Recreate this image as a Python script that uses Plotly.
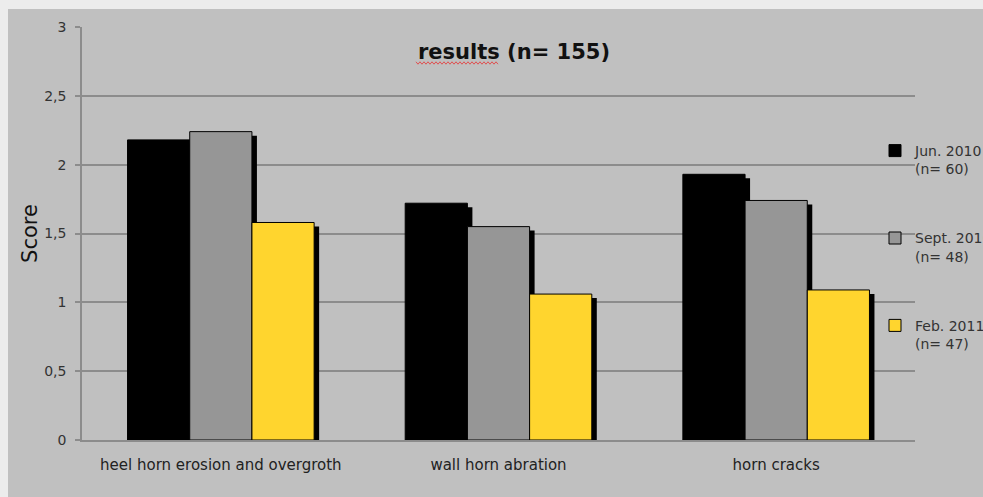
import plotly.graph_objects as go

# Category labels and mean scores per survey date
categories = ["heel horn erosion and overgroth", "wall horn abration", "horn cracks"]
jun_2010 = [2.18, 1.72, 1.93]
sept_2010 = [2.24, 1.55, 1.74]
feb_2011 = [1.58, 1.06, 1.09]

series_names = ["Jun. 2010<br>(n= 60)", "Sept. 2010<br>(n= 48)", "Feb. 2011<br>(n= 47)"]
series_values = [jun_2010, sept_2010, feb_2011]
series_colors = ["#000000", "#969696", "#ffd52e"]

y_ticks = [0, 0.5, 1, 1.5, 2, 2.5, 3]

BG = "#c0c0c0"
GRID = "#8c8c8c"

# plot area geometry (pixels) used to size the drop shadows
W, H = 983, 497
L, R, T, B = 82, 68, 27, 57
plot_w = W - L - R
plot_h = H - T - B
cat_px = plot_w / len(categories)
val_px = plot_h / 3.0

bar_w = 0.224
shadow_dx = 5 / cat_px
shadow_dy = 4 / val_px
offsets = [-1.5 * bar_w, -0.5 * bar_w, 0.5 * bar_w]


def px_x(p):
    return (p - L) / plot_w


def px_y(p):
    return (H - B - p) / plot_h


fig = go.Figure()

# drop shadows first
for vals, off in zip(series_values, offsets):
    fig.add_trace(go.Bar(
        x=categories, y=vals, base=-shadow_dy,
        offset=off + shadow_dx, width=bar_w,
        marker=dict(color="#000000", line=dict(width=0)),
        showlegend=False, hoverinfo="skip",
    ))

# bars
for i, (name, vals, off, col) in enumerate(zip(series_names, series_values, offsets, series_colors)):
    fig.add_trace(go.Bar(
        x=categories, y=vals, name=name,
        offset=off, width=bar_w,
        marker=dict(color=col, line=dict(color="#000000", width=1)),
        legendgroup=f"g{i}",
    ))

# red wavy spell-check underline beneath "results"
x0, x1, yy = 416, 498, 63
pts = []
k = 0
xp = x0
while xp <= x1:
    yp = yy + (1.2 if k % 2 else -1.2)
    pts.append((px_x(xp), px_y(yp)))
    xp += 2
    k += 1
path = "M " + " L ".join(f"{a:.5f},{b:.5f}" for a, b in pts)

shapes = [
    # grey chart panel, leaving a light band along the top and left edge
    dict(type="rect", xref="paper", yref="paper",
         x0=px_x(8), x1=px_x(W + 20), y0=px_y(H + 20), y1=px_y(9),
         fillcolor=BG, line=dict(width=0), layer="below"),
    dict(type="path", xref="paper", yref="paper", path=path,
         line=dict(color="#e05050", width=1)),
]

fig.update_layout(
    width=W, height=H,
    margin=dict(l=L, r=R, t=T, b=B, autoexpand=False),
    paper_bgcolor="#ececec", plot_bgcolor=BG,
    barmode="overlay",
    separators=",.",
    font=dict(family="DejaVu Sans", color="#333333", size=14),
    title=dict(text="<b>results (n= 155)</b>", x=px_x(514), xref="paper",
               xanchor="center", y=1 - 52 / H, yref="container", yanchor="middle",
               font=dict(family="DejaVu Sans", size=21, color="#111111")),
    shapes=shapes,
    showlegend=True,
    legend=dict(
        x=px_x(875), xanchor="left",
        y=px_y(135), yanchor="top",
        bgcolor="rgba(0,0,0,0)", borderwidth=0,
        valign="top", tracegroupgap=48,
        font=dict(family="DejaVu Sans", size=14, color="#333333"),
        traceorder="grouped",
    ),
    xaxis=dict(
        showgrid=False, showline=True, linecolor=GRID, linewidth=1.5,
        ticks="", tickfont=dict(size=15, color="#222222"),
        ticklabelstandoff=10,
        range=[-0.5, 2.5],
    ),
    yaxis=dict(
        range=[0, 3], tickvals=y_ticks,
        showgrid=True, gridcolor=GRID, gridwidth=1.5,
        showline=True, linecolor=GRID, linewidth=1.5,
        ticks="outside", ticklen=5, tickcolor=GRID, tickwidth=1.5,
        tickfont=dict(size=14, color="#333333"),
        ticklabelstandoff=6,
        zeroline=False,
        title=dict(text="Score", font=dict(size=21, color="#111111"), standoff=1),
    ),
)

fig.write_html("out.html")
